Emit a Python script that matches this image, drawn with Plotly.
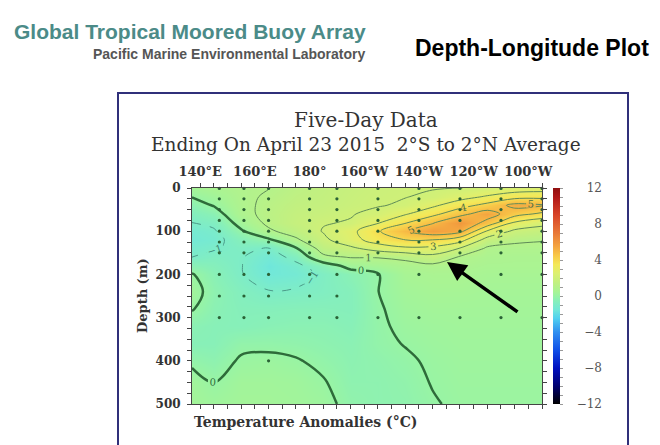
import plotly.graph_objects as go

# ---------------- data ----------------
lons = [137, 145, 155, 165, 175, 185, 195, 205, 215, 225, 235, 245, 255, 265]
depths = [0, 20, 40, 60, 80, 100, 120, 140, 160, 180, 200, 240, 280, 320, 360, 400, 450, 500]

# temperature anomaly profiles (deg C), one list per longitude, values at `depths`
t_137 = [0.4, 0.03, -0.35, -0.7, -1.0, -1.3, -1.4, -1.2, -1.0, -0.4, 0.05, 0.3, 0.05, -0.4, -0.5, -0.15, 0.3, 0.35]
t_145 = [0.6, 0.3, 0.05, -0.4, -0.8, -1.1, -1.25, -1.05, -0.8, -0.6, -0.45, -0.3, -0.4, -0.5, -0.5, -0.3, 0.0, 0.25]
t_155 = [0.85, 0.82, 0.78, 0.72, 0.35, -0.1, -0.6, -0.85, -0.95, -0.97, -0.95, -0.7, -0.6, -0.55, -0.15, 0.08, 0.3, 0.35]
t_165 = [0.98, 1.1, 1.2, 1.25, 1.2, 0.85, -0.15, -1.05, -1.4, -1.6, -1.5, -0.95, -0.6, -0.45, -0.15, 0.15, 0.3, 0.35]
t_175 = [1.3, 1.4, 1.5, 1.6, 1.65, 1.4, 0.85, -0.1, -0.75, -1.2, -1.35, -0.9, -0.55, -0.4, -0.2, 0.05, 0.25, 0.3]
t_185 = [1.5, 1.55, 1.6, 1.75, 1.95, 2.05, 1.8, 1.4, 0.8, -0.5, -0.85, -0.8, -0.55, -0.4, -0.3, -0.15, 0.05, 0.2]
t_195 = [1.7, 1.75, 1.8, 1.95, 2.05, 2.7, 2.6, 1.8, 1.05, 0.3, -0.4, -0.6, -0.6, -0.5, -0.4, -0.35, -0.3, -0.2]
t_205 = [1.85, 1.9, 1.95, 2.2, 2.9, 3.9, 3.5, 2.4, 1.05, 0.45, -0.05, -0.01, -0.08, -0.12, -0.15, -0.25, -0.3, -0.3]
t_215 = [1.95, 1.98, 2.1, 2.9, 3.9, 4.9, 4.0, 2.8, 1.2, 0.7, 0.5, 0.35, 0.25, 0.15, 0.03, -0.1, -0.2, -0.25]
t_225 = [1.97, 2.1, 2.8, 3.7, 4.9, 5.7, 4.0, 2.7, 1.7, 0.8, 0.6, 0.45, 0.35, 0.25, 0.18, 0.1, 0.03, -0.05]
t_235 = [1.98, 2.6, 3.6, 4.7, 5.9, 5.3, 3.4, 1.95, 0.9, 0.7, 0.6, 0.45, 0.35, 0.3, 0.25, 0.2, 0.15, 0.1]
t_245 = [2.2, 3.1, 4.3, 5.5, 4.7, 2.9, 1.6, 0.85, 0.7, 0.6, 0.5, 0.4, 0.35, 0.3, 0.25, 0.2, 0.15, 0.1]
t_255 = [2.4, 3.6, 5.3, 4.4, 2.9, 1.8, 1.15, 0.8, 0.65, 0.6, 0.5, 0.4, 0.35, 0.3, 0.25, 0.2, 0.15, 0.1]
t_265 = [2.5, 3.7, 5.1, 3.8, 2.3, 1.6, 1.05, 0.8, 0.65, 0.6, 0.5, 0.4, 0.35, 0.3, 0.25, 0.2, 0.15, 0.1]

profiles = [t_137, t_145, t_155, t_165, t_175, t_185, t_195, t_205,
            t_215, t_225, t_235, t_245, t_255, t_265]
z = [[prof[i] for prof in profiles] for i in range(len(depths))]

# mooring (data) locations
mooring_lons = [147, 156, 165, 180, 190, 205, 220, 235, 250, 265]
west_depths = [1, 25, 50, 75, 100, 125, 150, 200, 250, 300]
east_depths = [1, 25, 50, 75, 100, 125, 150, 200, 300]
extra_lon = [165]
extra_depth = [400]

lon_ticks = [140, 160, 180, 200, 220, 240, 260]
lon_labels = ["140°E", "160°E", "180°", "160°W", "140°W", "120°W", "100°W"]
depth_ticks = [0, 100, 200, 300, 400, 500]
cbar_ticks = [12, 8, 4, 0, -4, -8, -12]

# ---------------- layout helpers ----------------
W, H = 660, 445
L, R, T, B = 192, 40, 188, 41
PW = W - L - R
PH = H - T - B


def px(x):
    return (x - L) / PW


def py(y):
    return (H - B - y) / PH


colorscale = [
    [0.0, "#000000"], [0.0833, "#000070"], [0.1667, "#0010c0"], [0.25, "#1050e8"],
    [0.3333, "#3090f0"], [0.3958, "#50d0f0"], [0.4375, "#72e8d8"], [0.479, "#88f0b8"],
    [0.5, "#98f4a4"], [0.5208, "#a8f494"], [0.5625, "#c2f080"], [0.6042, "#dcf070"],
    [0.6458, "#f4e858"], [0.6875, "#f8c848"], [0.7292, "#f4a440"], [0.7917, "#e87838"],
    [0.875, "#d84428"], [0.9583, "#b01818"], [1.0, "#901010"],
]

serif = "DejaVu Serif"

fig = go.Figure()

fig.add_trace(go.Heatmap(
    x=lons, y=depths, z=z, zmin=-12, zmax=12, zsmooth="best",
    colorscale=colorscale, hoverinfo="skip",
    colorbar=dict(x=px(553), xanchor="left", xpad=0, y=0.5, yanchor="middle",
                  len=1, lenmode="fraction", ypad=0, thickness=7, outlinewidth=0,
                  tickmode="array", tickvals=list(range(-12, 13)), ticks="outside",
                  ticklen=3, tickcolor="#999", showticklabels=False),
))

label_font = dict(family=serif, size=10, color="#4a6e48")
fig.add_trace(go.Contour(
    x=lons, y=depths, z=z, autocontour=False,
    contours=dict(start=1, end=6, size=1, coloring="none", showlabels=True,
                  labelfont=label_font),
    line=dict(color="#5e8a58", width=1, smoothing=1), showscale=False, hoverinfo="skip",
))
fig.add_trace(go.Contour(
    x=lons, y=depths, z=z, autocontour=False,
    contours=dict(start=-3, end=-1, size=1, coloring="none", showlabels=True,
                  labelfont=dict(family=serif, size=10, color="#3f8a78")),
    line=dict(color="#4c9a88", width=1, dash="dash", smoothing=1), showscale=False,
    hoverinfo="skip",
))
fig.add_trace(go.Contour(
    x=lons, y=depths, z=z, autocontour=False,
    contours=dict(start=0, end=0, size=1, coloring="none", showlabels=True,
                  labelfont=dict(family=serif, size=10, color="#2e6b3a")),
    line=dict(color="#2e6b3a", width=2.5, smoothing=1), showscale=False, hoverinfo="skip",
))

# mooring dots
dot_x, dot_y = [], []
for lon in mooring_lons:
    ds = west_depths if lon <= 190 else east_depths
    for d in ds:
        dot_x.append(lon)
        dot_y.append(d)
dot_x += extra_lon
dot_y += extra_depth
fig.add_trace(go.Scatter(x=dot_x, y=dot_y, mode="markers",
                         marker=dict(size=3.2, color="#2a6236"),
                         hoverinfo="skip", showlegend=False, cliponaxis=False))

# invisible trace for colorbar label axis
fig.add_trace(go.Scatter(x=[None], y=[None], yaxis="y2", showlegend=False,
                         hoverinfo="skip"))

tickfont = dict(family=serif, size=12, color="#333", weight="bold")

fig.update_layout(
    width=W, height=H, margin=dict(l=L, r=R, t=T, b=B, pad=0),
    paper_bgcolor="white", plot_bgcolor="white", showlegend=False,
    xaxis=dict(domain=[0, 350 / PW], range=[137, 265], side="top",
               tickmode="array", tickvals=lon_ticks, ticktext=lon_labels,
               ticks="outside", ticklen=4, tickcolor="#444",
               tickfont=dict(family=serif, size=13, color="#333", weight="bold"),
               ticklabelstandoff=2,
               minor=dict(tickmode="linear", tick0=135, dtick=5, ticks="outside",
                          ticklen=4, tickcolor="#444", showgrid=False),
               showline=True, linecolor="#444", linewidth=1, mirror="ticks",
               showgrid=False, zeroline=False),
    yaxis=dict(range=[500, 0], tickmode="array", tickvals=depth_ticks,
               ticks="outside", ticklen=4, tickcolor="#444", tickfont=tickfont,
               ticklabelstandoff=4,
               minor=dict(tickmode="linear", tick0=0, dtick=25, ticks="outside",
                          ticklen=4, tickcolor="#444", showgrid=False),
               showline=True, linecolor="#444", linewidth=1, mirror="ticks",
               showgrid=False, zeroline=False),
    yaxis2=dict(overlaying="y", range=[-12, 12], anchor="free", position=px(602),
                side="left", tickmode="array", tickvals=cbar_ticks, ticks="",
                showline=False, showgrid=False, zeroline=False,
                tickfont=dict(family=serif, size=12, color="#555")),
)

annos = [
    dict(text="<b>Global Tropical Moored Buoy Array</b>", x=px(12), y=py(31),
         xanchor="left", yanchor="middle",
         font=dict(family="Liberation Sans", size=21, color="#4b8b88")),
    dict(text="<b>Pacific Marine Environmental Laboratory</b>", x=px(368), y=py(54),
         xanchor="right", yanchor="middle",
         font=dict(family="Liberation Sans", size=14, color="#555")),
    dict(text="<b>Depth-Longitude Plot</b>", x=px(413), y=py(48),
         xanchor="left", yanchor="middle",
         font=dict(family="Liberation Sans", size=23, color="#000")),
    dict(text="Five-Day Data", x=px(366), y=py(120), xanchor="center", yanchor="middle",
         font=dict(family=serif, size=20, color="#333")),
    dict(text="Ending On April 23 2015 \u00a02°S to 2°N Average", x=px(366), y=py(145),
         xanchor="center", yanchor="middle",
         font=dict(family=serif, size=18.5, color="#333")),
    dict(text="<b>Depth (m)</b>", x=px(142), y=py(296), textangle=-90,
         xanchor="center", yanchor="middle",
         font=dict(family=serif, size=13, color="#333")),
    dict(text="<b>Temperature Anomalies (°C)</b>", x=px(192), y=py(422),
         xanchor="left", yanchor="middle",
         font=dict(family=serif, size=14, color="#333")),
    dict(text="", x=px(447), y=py(262), xref="paper", yref="paper",
         ax=72, ay=51, showarrow=True, arrowhead=2, arrowsize=1.1,
         arrowwidth=3.5, arrowcolor="#000"),
]
for a in annos:
    a.setdefault("xref", "paper")
    a.setdefault("yref", "paper")
    a.setdefault("showarrow", False)
    fig.add_annotation(**a)

fig.add_shape(type="rect", xref="paper", yref="paper",
              x0=px(118), x1=px(628), y0=py(470), y1=py(93),
              line=dict(color="#30307a", width=2), fillcolor="rgba(0,0,0,0)",
              layer="below")

fig.write_html("out.html")
